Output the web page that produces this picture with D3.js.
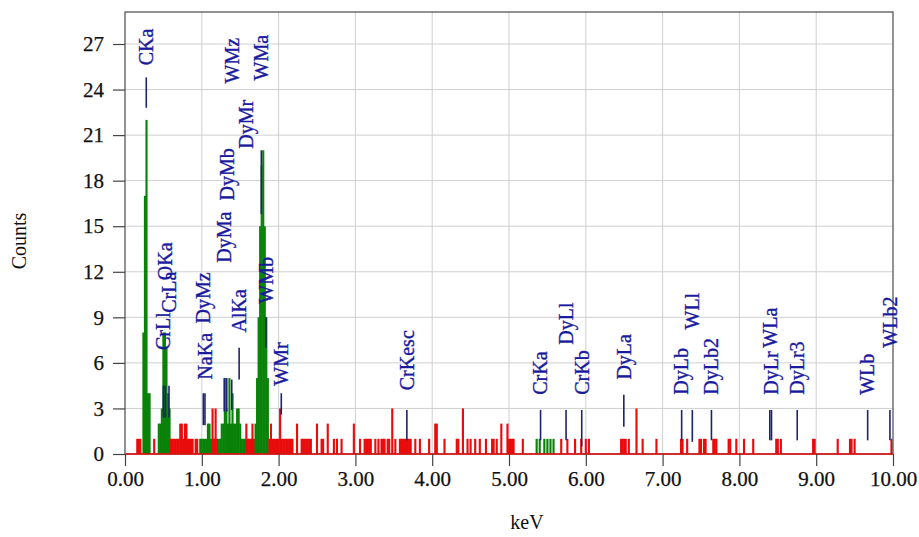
<!DOCTYPE html>
<html>
<head>
<meta charset="utf-8">
<script src="https://cdn.jsdelivr.net/npm/d3@7"></script>
<style>
  html, body { margin: 0; padding: 0; background: #ffffff; }
  svg { display: block; }
</style>
</head>
<body>
<svg id="chart" width="919" height="537"></svg>
<script>
// EDS spectrum: counts per 20 eV channel (only non-empty channels listed)
const channelKeV = [
  0.16, 0.18, 0.20,
  0.24, 0.26, 0.28, 0.30, 0.32,
  0.38,
  0.44, 0.46, 0.48, 0.50, 0.52, 0.54, 0.56, 0.58,
  0.60, 0.62, 0.64, 0.66, 0.68, 0.70, 0.72, 0.74, 0.76, 0.78, 0.80, 0.82, 0.84, 0.86, 0.88, 0.92, 0.94,
  0.98, 1.00, 1.02, 1.04, 1.06, 1.08, 1.10, 1.12,
  1.14, 1.16, 1.18, 1.20,
  1.22, 1.24, 1.26, 1.28, 1.30, 1.32, 1.34, 1.36, 1.38, 1.40, 1.42, 1.44, 1.46, 1.48, 1.50, 1.52, 1.54, 1.56,
  1.58, 1.60, 1.62, 1.64, 1.66, 1.68,
  1.70, 1.72, 1.74, 1.76, 1.78, 1.80, 1.82, 1.84, 1.86,
  1.88, 1.90, 1.92, 1.94, 1.96, 1.98, 2.00, 2.02, 2.04, 2.06, 2.08, 2.10, 2.12, 2.14, 2.16, 2.18,
  2.24, 2.30, 2.32, 2.34, 2.36, 2.38, 2.40, 2.42,
  2.50, 2.56, 2.58, 2.64, 2.72, 2.76, 2.82, 2.98,
  3.06, 3.12, 3.14, 3.16, 3.18, 3.20, 3.26, 3.30, 3.34, 3.36, 3.38, 3.42, 3.44, 3.48,
  3.52, 3.58, 3.60, 3.62, 3.64, 3.66, 3.68, 3.70, 3.72, 3.78, 3.84, 3.96,
  4.04, 4.06, 4.16, 4.32, 4.34, 4.40, 4.46, 4.50, 4.56, 4.62, 4.70, 4.78, 4.80, 4.84, 4.90, 4.98,
  5.00, 5.02, 5.04, 5.06, 5.18,
  5.36, 5.40, 5.46, 5.50, 5.54, 5.58,
  5.68, 5.76, 5.86, 5.94, 6.00, 6.04,
  6.46, 6.48, 6.50, 6.52, 6.56, 6.66, 6.74, 6.92,
  7.24, 7.26, 7.32, 7.48, 7.50, 7.54, 7.56, 7.66, 7.68, 7.70, 7.86, 7.88, 7.96,
  8.06, 8.18, 8.48, 8.50, 8.54, 8.96, 8.98,
  9.28, 9.44, 9.46, 9.50, 9.98
];
const channelCounts = [
  1, 1, 1,
  8, 17, 22, 4, 4,
  1,
  2, 2, 3, 8, 8, 7, 4, 3,
  1, 1, 1, 1, 1, 1, 2, 2, 1, 2, 2, 1, 1, 1, 1, 1, 1,
  1, 1, 1, 1, 1, 2, 2, 1,
  3, 1, 3, 1,
  1, 1, 2, 2, 5, 3, 2, 5, 2, 4, 2, 2, 3, 3, 2, 1, 1, 1,
  2, 1, 1, 1, 2, 1,
  2, 5, 9, 15, 19, 20, 15, 9, 5,
  1, 2, 1, 1, 1, 1, 1, 3, 1, 1, 1, 1, 1, 1, 1, 1,
  2, 1, 1, 1, 1, 1, 1, 1,
  2, 1, 1, 2, 1, 1, 1, 2,
  1, 1, 1, 1, 1, 1, 1, 1, 1, 1, 1, 1, 1, 3,
  1, 1, 1, 1, 1, 1, 1, 1, 1, 1, 1, 1,
  2, 2, 1, 1, 1, 3, 1, 1, 1, 1, 1, 1, 1, 1, 2, 2,
  1, 1, 1, 1, 1,
  1, 1, 1, 1, 1, 1,
  1, 1, 1, 1, 1, 1,
  1, 1, 1, 1, 1, 3, 1, 1,
  1, 1, 1, 1, 1, 1, 1, 1, 1, 1, 1, 1, 1,
  1, 1, 1, 1, 1, 1, 1,
  1, 1, 1, 1, 1
];
const channelWidth = 0.02;

// Regions of interest (identified peak windows), drawn in green
const roiStart = [0.23, 0.43, 0.97, 1.21, 1.69, 5.35];
const roiEnd   = [0.33, 0.59, 1.13, 1.57, 1.87, 5.59];

// Element line markers: energy, marker extent (counts) and label start (counts)
const lineNames = ["CKa", "CrLl", "OKa", "CrLa", "DyMz", "NaKa", "DyMa", "DyMb", "WMz", "AlKa", "DyMr",
                   "WMa", "WMb", "WMr", "CrKesc", "CrKa", "DyLl", "CrKb", "DyLa", "DyLb", "WLl", "DyLb2",
                   "WLa", "DyLr", "DyLr3", "WLb", "WLb2"];
const lineKeV   = [0.277, 0.500, 0.525, 0.573, 1.020, 1.041, 1.293, 1.325, 1.390, 1.486, 1.580,
                   1.775, 1.835, 2.035, 3.670, 5.411, 5.743, 5.947, 6.495, 7.248, 7.387, 7.636,
                   8.396, 8.418, 8.753, 9.670, 9.960];
const lineLo    = [22.8, 2.4, 2.4, 2.4, 1.9, 1.9, 2.8, 2.8, 2.9, 4.9, 0,
                   15.8, 7.0, 2.6, 0.9, 0.9, 0.9, 0.5, 1.8, 0.9, 0.8, 0.9,
                   0.9, 0.9, 0.9, 0.9, 0.9];
const lineHi    = [24.8, 4.5, 4.5, 4.5, 4.0, 4.0, 5.0, 5.0, 4.9, 7.0, 0,
                   20.0, 9.0, 4.0, 2.9, 2.9, 2.9, 2.9, 3.9, 2.9, 2.9, 2.9,
                   2.9, 2.9, 2.9, 2.9, 2.9];
const labelBase = [25.6, 6.85, 11.45, 9.3, 8.6, 4.9, 12.6, 16.7, 24.4, 8.0, 20.1,
                   24.6, 9.9, 4.5, 4.2, 3.9, 7.2, 3.9, 4.9, 3.9, 8.2, 3.9,
                   7.0, 3.9, 3.9, 3.9, 7.0];

const xTicks = [0, 1, 2, 3, 4, 5, 6, 7, 8, 9, 10];
const yTicks = [0, 3, 6, 9, 12, 15, 18, 21, 24, 27];

// ---- layout ----
const plotLeft = 125, plotRight = 893, plotTop = 12, plotBottom = 454;
const serif = "'Liberation Serif', 'Times New Roman', serif";
const RED = "#e80c0c", GREEN = "#0a820a", LABEL_BLUE = "#1a1a9e", MARKER = "#1d236e";

const svg = d3.select("#chart");

const x = d3.scaleLinear().domain([0, 10]).range([plotLeft, plotRight]);
const y = d3.scaleLinear().domain([0, 27]).range([plotBottom, 44]);

// grid
const grid = svg.append("g");
grid.selectAll("line.v").data(xTicks.slice(1, -1)).join("line")
  .attr("x1", d => x(d)).attr("x2", d => x(d))
  .attr("y1", plotTop).attr("y2", plotBottom)
  .attr("stroke", "#cfcfcf").attr("stroke-width", 1);
grid.selectAll("line.h").data(yTicks.slice(1)).join("line")
  .attr("x1", plotLeft).attr("x2", plotRight)
  .attr("y1", d => y(d)).attr("y2", d => y(d))
  .attr("stroke", "#cfcfcf").attr("stroke-width", 1);

// spectrum channels (slight overlap so neighbouring channels form solid blocks)
const spectrum = channelKeV.map((e, i) => ({
  e, c: channelCounts[i],
  roi: roiStart.some((s, j) => e >= s && e <= roiEnd[j])
}));
const barW = x(channelWidth) - x(0);
svg.append("g").selectAll("rect").data(spectrum).join("rect")
  .attr("x", d => x(d.e) - barW / 2 - 0.3)
  .attr("width", barW + 0.6)
  .attr("y", d => y(d.c))
  .attr("height", d => y(0) - y(d.c))
  .attr("fill", d => d.roi ? GREEN : RED);

// frame
svg.append("rect")
  .attr("x", plotLeft).attr("y", plotTop)
  .attr("width", plotRight - plotLeft).attr("height", plotBottom - plotTop)
  .attr("fill", "none").attr("stroke", "#4a4a4a").attr("stroke-width", 1.2);
// baseline of the spectrum
svg.append("line")
  .attr("x1", x(0)).attr("x2", x(10)).attr("y1", y(0)).attr("y2", y(0))
  .attr("stroke", RED).attr("stroke-width", 1.3);

// axes
const yAxis = svg.append("g")
  .attr("transform", `translate(${plotLeft},0)`)
  .call(d3.axisLeft(y).tickValues(yTicks).tickSize(12).tickPadding(9).tickFormat(d3.format("d")));
const xAxis = svg.append("g")
  .attr("transform", `translate(0,${plotBottom})`)
  .call(d3.axisBottom(x).tickValues(xTicks).tickSize(12).tickPadding(5).tickFormat(d3.format(".2f")));
[xAxis, yAxis].forEach(a => {
  a.select(".domain").remove();
  a.selectAll(".tick line").attr("stroke", "#444").attr("stroke-width", 1.2);
  a.selectAll(".tick text").attr("fill", "#111")
    .attr("stroke", "#111").attr("stroke-width", 0.25)
    .style("font-family", serif).style("font-size", "21px");
});

// element markers
const markers = lineNames.map((n, i) => ({ n, e: lineKeV[i], lo: lineLo[i], hi: lineHi[i], base: labelBase[i] }));
svg.append("g").selectAll("line").data(markers.filter(d => d.hi > d.lo)).join("line")
  .attr("x1", d => x(d.e)).attr("x2", d => x(d.e))
  .attr("y1", d => y(d.lo)).attr("y2", d => y(d.hi))
  .attr("stroke", MARKER).attr("stroke-width", 1.6);
svg.append("g").selectAll("text").data(markers).join("text")
  .attr("transform", d => `translate(${x(d.e)},${y(d.base)}) rotate(-90)`)
  .attr("dy", "0.34em")
  .attr("text-anchor", "start")
  .attr("fill", LABEL_BLUE)
  .attr("stroke", LABEL_BLUE).attr("stroke-width", 0.35)
  .style("font-family", serif).style("font-size", "20px")
  .text(d => d.n);

// axis titles
svg.append("text")
  .attr("transform", `translate(19,${(plotTop + plotBottom) / 2 + 8}) rotate(-90)`)
  .attr("text-anchor", "middle").attr("dy", "0.35em")
  .attr("fill", "#111")
  .style("font-family", serif).style("font-size", "20px")
  .text("Counts");
svg.append("text")
  .attr("x", 527).attr("y", 529)
  .attr("text-anchor", "middle")
  .attr("fill", "#111")
  .style("font-family", serif).style("font-size", "20px")
  .text("keV");
</script>
</body>
</html>
